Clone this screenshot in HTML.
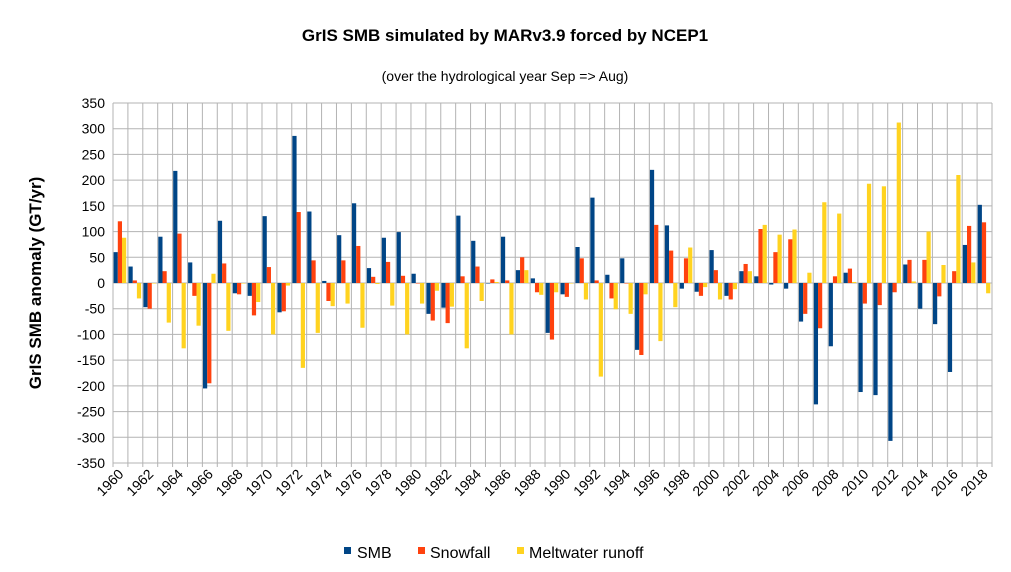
<!DOCTYPE html>
<html><head><meta charset="utf-8"><style>
body{margin:0;background:#fff;font-family:"Liberation Sans",sans-serif}
svg text{font-family:"Liberation Sans",sans-serif}
</style></head><body>
<svg id="chart" width="1011" height="567" xmlns="http://www.w3.org/2000/svg">
<rect width="1011" height="567" fill="#fff"/>
<text x="505" y="41" text-anchor="middle" font-size="17" font-weight="bold">GrIS SMB simulated by MARv3.9 forced by NCEP1</text>
<text x="505" y="81" text-anchor="middle" font-size="14">(over the hydrological year Sep =&gt; Aug)</text>
<text transform="translate(41,283) rotate(-90)" text-anchor="middle" font-size="17" font-weight="bold">GrIS SMB anomaly (GT/yr)</text>
<g id="grid"></g><g id="bars"></g><g id="ticks"></g>
<g>
<rect x="344" y="547" width="7" height="7" fill="#004586"/>
<text x="357" y="558" font-size="16">SMB</text>
<rect x="418" y="547" width="7" height="7" fill="#ff420e"/>
<text x="430" y="558" font-size="16">Snowfall</text>
<rect x="517" y="547" width="7" height="7" fill="#ffd320"/>
<text x="529" y="558" font-size="16">Meltwater runoff</text>
</g>
</svg>
<script>
const years=[];for(let y=1960;y<=2018;y++)years.push(y);
const smb=[60,32,-47,90,218,40,-205,121,-20,-25,130,-57,286,139,4,93,155,29,88,99,18,-60,-48,131,82,0,90,25,9,-97,-22,70,166,16,48,-130,220,112,-11,-17,64,-25,23,13,-3,-11,-75,-236,-123,20,-212,-218,-307,36,-50,-80,-173,74,152];
const snowfall=[120,5,-50,23,96,-25,-195,38,-22,-63,31,-55,138,44,-35,44,72,12,41,14,0,-73,-78,13,32,7,5,50,-18,-110,-27,48,5,-30,0,-140,113,63,48,-25,25,-32,37,105,60,85,-60,-88,13,28,-40,-43,-18,45,45,-26,23,111,118];
const runoff=[88,-30,0,-77,-127,-83,18,-93,0,-37,-100,-5,-165,-97,-45,-40,-87,-2,-44,-100,-40,-15,-46,-127,-35,2,-100,25,-23,-18,0,-32,-182,-51,-60,-22,-113,-47,69,-8,-32,-12,23,113,94,104,20,157,135,2,193,188,312,3,100,35,210,40,-20];
const yTicks=[350,300,250,200,150,100,50,0,-50,-100,-150,-200,-250,-300,-350];
const NS="http://www.w3.org/2000/svg";
const L=113,R=992,T=103,B=463;
const cw=(R-L)/years.length;
const yS=v=>283-v*(B-T)/700;
const xS=i=>L+i*cw;
function mk(t,a,p){const e=document.createElementNS(NS,t);for(const k in a)e.setAttribute(k,a[k]);p.appendChild(e);return e;}
const grid=document.getElementById('grid'),bars=document.getElementById('bars'),ticks=document.getElementById('ticks');
yTicks.forEach(v=>{
 const ln=mk('line',{x1:L,x2:R,y1:yS(v),y2:yS(v),stroke:'#b3b3b3','stroke-width':1},grid);
 
 
 const t=mk('text',{x:L-8,y:yS(v)+5,'text-anchor':'end','font-size':14},ticks);
 t.textContent=v;
 
 
});
for(let i=0;i<=years.length;i++){
 const ln=mk('line',{x1:xS(i),x2:xS(i),y1:T,y2:B+4,stroke:'#b3b3b3','stroke-width':1},grid);
 
 
}
const series=[[smb,'#004586','bar-smb'],[snowfall,'#ff420e','bar-snowfall'],[runoff,'#ffd320','bar-runoff']];
const bw=4.2;
years.forEach((yr,i)=>{
 series.forEach((s,k)=>{
  const v=s[0][i],x=xS(i)+0.6+k*bw,y0=yS(0),y1=yS(v);
  const r=mk('rect',{x:x,y:Math.min(y0,y1),width:bw,height:Math.max(0.5,Math.abs(y1-y0)),fill:s[1]},bars);
  
  
 });
 if(i%2===0){
  const cx=xS(i)+cw/2+4,cy=B+12;
  const t=mk('text',{x:cx,y:cy,'text-anchor':'end','font-size':14,transform:`rotate(-45 ${cx} ${cy})`},ticks);
  t.textContent=yr;
  
  
 }
});
</script>
</body></html>
